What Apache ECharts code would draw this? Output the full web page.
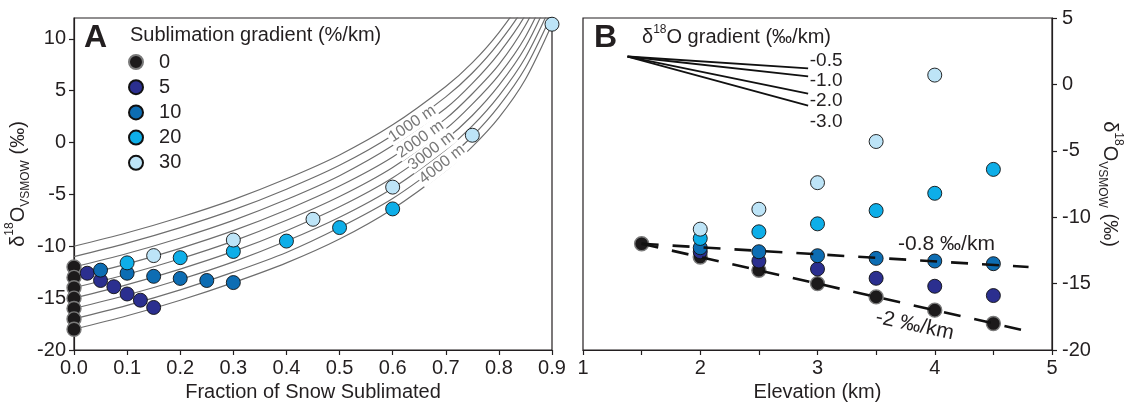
<!DOCTYPE html>
<html><head><meta charset="utf-8">
<script src="https://cdn.jsdelivr.net/npm/echarts@6/dist/echarts.min.js"></script>
<style>html,body{margin:0;padding:0;background:#fff}#c{width:1125px;height:409px}</style>
</head><body><div id="c"></div>
<script>
const FONT = '"Liberation Sans", Arial, Helvetica, sans-serif';
const INK = '#231f20';

// ---- data ----
const gradients = ['0', '5', '10', '20', '30'];
const gradientColors = ['#1c1a1b', '#2b2f8f', '#0d6db3', '#0eaee8', '#bde4f7'];

const elevations0 = [1.5, 2, 2.5, 3, 3.5, 4, 4.5];
const elevations = [2, 2.5, 3, 3.5, 4, 4.5];

const d18O_0 = [-12, -13, -14, -15, -16, -17, -18];
const d18O_5 = [-12.6, -13.3, -13.9, -14.6, -15.2, -15.9];
const d18O_10 = [-12.3, -12.6, -12.9, -13.1, -13.3, -13.5];
const d18O_20 = [-11.6, -11.1, -10.5, -9.5, -8.2, -6.4];
const d18O_30 = [-10.9, -9.4, -7.4, -4.3, 0.7, 11.4];

const frac_0 = [0, 0, 0, 0, 0, 0, 0];
const frac_5 = [0.025, 0.05, 0.075, 0.1, 0.125, 0.15];
const frac_10 = [0.05, 0.1, 0.15, 0.2, 0.25, 0.3];
const frac_20 = [0.1, 0.2, 0.3, 0.4, 0.5, 0.6];
const frac_30 = [0.15, 0.3, 0.45, 0.6, 0.75, 0.9];

// model curves
const curveX = [0, 0.1, 0.2, 0.3, 0.4, 0.5, 0.6, 0.7, 0.75, 0.8, 0.85, 0.9];
const curve_m10 = [-10, -8.7, -7.2, -5.5, -3.5, -1.2, 1.7, 5.4, 7.7, 10.6, 14.3, 19.6];
const curve_m11 = [-11, -9.7, -8.2, -6.5, -4.5, -2.2, 0.7, 4.4, 6.7, 9.6, 13.3, 18.6];
const curve_m12 = [-12, -10.7, -9.2, -7.5, -5.5, -3.2, -0.3, 3.3, 5.7, 8.6, 12.3, 17.6];
const curve_m13 = [-13, -11.7, -10.2, -8.5, -6.5, -4.2, -1.4, 2.3, 4.7, 7.5, 11.3, 16.5];
const curve_m14 = [-14, -12.7, -11.2, -9.5, -7.5, -5.2, -2.4, 1.3, 3.7, 6.5, 10.2, 15.5];
const curve_m15 = [-15, -13.7, -12.2, -10.5, -8.5, -6.2, -3.4, 0.3, 2.6, 5.5, 9.2, 14.5];
const curve_m16 = [-16, -14.7, -13.2, -11.5, -9.5, -7.2, -4.4, -0.7, 1.6, 4.5, 8.2, 13.4];
const curve_m17 = [-17, -15.7, -14.2, -12.5, -10.6, -8.2, -5.4, -1.7, 0.6, 3.5, 7.2, 12.4];
const curve_m18 = [-18, -16.7, -15.2, -13.5, -11.6, -9.3, -6.4, -2.7, -0.4, 2.4, 6.1, 11.4];

const curveLabelNames = ['1000 m', '2000 m', '3000 m', '4000 m'];
const curveLabelX = [0.637, 0.652, 0.673, 0.693];
const curveLabelY = [1.8, 0.3, -0.8, -2.1];

// panel B schematic slope key
const fanLabels = ['-0.5', '-1.0', '-2.0', '-3.0'];
const fanStart = [1.38, 2.1];
const fanEndX = 2.92;
const fanEndY = [1.2, 0.6, -0.7, -1.6];
const fanLabelX = 2.93;
const fanLabelY = [1.75, 0.25, -1.2, -2.8];

// panel B trend lines
const trendUpper = [[1.5, -12], [4.8, -13.75]];
const trendLower = [[1.5, -12], [4.75, -18.5]];
const trendUpperLabel = ['-0.8 ‰/km', 4.1, -12.0];
const trendLowerLabel = ['-2 ‰/km', 3.83, -18.15];

const yTicksA = [-20, -15, -10, -5, 0, 5, 10];

// ---- build ----
const fracSets = [frac_0, frac_5, frac_10, frac_20, frac_30];
const d18OSets = [d18O_0, d18O_5, d18O_10, d18O_20, d18O_30];
const elevSets = [elevations0, elevations, elevations, elevations, elevations];
const curves = [curve_m10, curve_m11, curve_m12, curve_m13, curve_m14, curve_m15, curve_m16, curve_m17, curve_m18];

function markerStyle(i) {
  return i === 0
    ? { color: gradientColors[i], borderColor: '#7a7a7a', borderWidth: 1.4, opacity: 1 }
    : { color: gradientColors[i], borderColor: '#111', borderWidth: 0.9, opacity: 1 };
}
const hiddenItem = { color: 'rgba(0,0,0,0)', opacity: 1 };

const series = [];
curves.forEach(c => {
  series.push({
    type: 'line', xAxisIndex: 0, yAxisIndex: 0, silent: true,
    data: curveX.map((x, i) => [x, c[i]]),
    symbol: 'none', smooth: 0.3, clip: true,
    lineStyle: { color: '#6e6e6e', width: 1.2 }, z: 1
  });
});
series.push({
  type: 'scatter', xAxisIndex: 0, yAxisIndex: 0, silent: true, z: 2,
  symbolSize: 1, itemStyle: hiddenItem,
  data: curveLabelNames.map((n, i) => ({ name: n, value: [curveLabelX[i], curveLabelY[i]],
    label: { rotate: [34, 35, 37, 38][i] } })),
  label: { show: true, position: 'inside', formatter: p => p.name, color: '#777',
    opacity: 1, fontSize: 16, fontFamily: FONT, backgroundColor: '#fff', padding: [0, 1] }
});
gradients.forEach((g, i) => {
  series.push({
    name: g, type: 'scatter', xAxisIndex: 0, yAxisIndex: 0, z: 3 + i,
    symbolSize: 14, itemStyle: markerStyle(i), clip: false,
    data: fracSets[i].map((f, j) => [f, d18OSets[i][j]])
  });
});
gradients.forEach((g, i) => {
  series.push({
    name: g, type: 'scatter', xAxisIndex: 1, yAxisIndex: 1, z: 3 + i,
    symbolSize: 14, itemStyle: markerStyle(i), clip: true,
    data: elevSets[i].map((e, j) => [e, d18OSets[i][j]])
  });
});
[trendUpper, trendLower].forEach(t => {
  series.push({
    type: 'line', xAxisIndex: 1, yAxisIndex: 1, silent: true, z: 10,
    data: t, symbol: 'none',
    lineStyle: { color: '#111', width: 2.6, type: [17, 14] }
  });
});
[trendUpperLabel, trendLowerLabel].forEach((t, i) => {
  series.push({
    type: 'scatter', xAxisIndex: 1, yAxisIndex: 1, silent: true, z: 11,
    symbolSize: 1, itemStyle: hiddenItem,
    data: [{ name: t[0], value: [t[1], t[2]] }],
    label: { show: true, position: 'inside', formatter: p => p.name, color: INK, opacity: 1,
      fontSize: 21, fontFamily: FONT, rotate: i === 0 ? 0 : -12 }
  });
});
fanEndY.forEach(y => {
  series.push({
    type: 'line', xAxisIndex: 1, yAxisIndex: 1, silent: true, z: 10,
    data: [fanStart, [fanEndX, y]], symbol: 'none',
    lineStyle: { color: '#111', width: 1.8 }
  });
});
series.push({
  type: 'scatter', xAxisIndex: 1, yAxisIndex: 1, silent: true, z: 11,
  symbolSize: 1, itemStyle: hiddenItem,
  data: fanLabels.map((n, i) => ({ name: n, value: [fanLabelX, fanLabelY[i]] })),
  label: { show: true, position: 'right', distance: 0, formatter: p => p.name, color: INK,
    opacity: 1, fontSize: 19, fontFamily: FONT }
});

const axisCommon = {
  axisLine: { show: true, onZero: false, lineStyle: { color: INK, width: 1.2 } },
  axisTick: { show: true, length: 5, lineStyle: { color: INK, width: 1.2 } },
  splitLine: { show: false },
  nameTextStyle: { fontSize: 20, fontFamily: FONT, color: INK },
};
const labelStyle = { fontSize: 20, fontFamily: FONT, color: INK };
const richName = {
  a: { fontSize: 20, fontFamily: FONT, color: INK, lineHeight: 28 },
  sup: { fontSize: 12, fontFamily: FONT, color: INK, verticalAlign: 'top', lineHeight: 12 },
  sub: { fontSize: 12, fontFamily: FONT, color: INK, verticalAlign: 'bottom', lineHeight: 12 }
};
const yName = '{a|δ}{sup|18}{a|O}{sub|VSMOW}{a| (‰)}';

const option = {
  animation: false,
  backgroundColor: '#fff',
  title: [
    { text: 'A', left: 84, top: 22, padding: 0, textStyle: { fontSize: 32, fontWeight: 'bold', fontFamily: FONT, color: INK } },
    { text: 'Sublimation gradient (%/km)', left: 130, top: 25, padding: 0, textStyle: { fontSize: 20, fontWeight: 'normal', fontFamily: FONT, color: INK } },
    { text: 'B', left: 594, top: 22, padding: 0, textStyle: { fontSize: 32, fontWeight: 'bold', fontFamily: FONT, color: INK } },
    { text: '{a|δ}{s|18}{a|O gradient (‰/km)}', left: 642, top: 24, padding: 0,
      textStyle: { fontWeight: 'normal', rich: {
        a: { fontSize: 20, fontWeight: 'normal', fontFamily: FONT, color: INK, lineHeight: 26 },
        s: { fontSize: 12, fontWeight: 'normal', fontFamily: FONT, color: INK, verticalAlign: 'top', lineHeight: 12 } } } }
  ],
  legend: {
    data: gradients, orient: 'vertical', left: 128, top: 52, padding: 0,
    itemWidth: 14, itemHeight: 14, itemGap: 5.2,
    formatter: n => '  ' + n,
    textStyle: { fontSize: 20, fontFamily: FONT, color: INK, lineHeight: 20 },
    selectedMode: false
  },
  grid: [
    { left: 74, right: 573, top: 18, bottom: 59, show: true, borderColor: INK, borderWidth: 1.2, backgroundColor: 'transparent' },
    { left: 583, right: 68, top: 18, bottom: 59, show: true, borderColor: INK, borderWidth: 1.2, backgroundColor: 'transparent' }
  ],
  xAxis: [
    Object.assign({}, axisCommon, {
      gridIndex: 0, type: 'value', min: 0, max: 0.9, interval: 0.1,
      axisLabel: Object.assign({ margin: 8, formatter: v => v.toFixed(1) }, labelStyle),
      name: 'Fraction of Snow Sublimated', nameLocation: 'middle', nameGap: 27
    }),
    Object.assign({}, axisCommon, {
      gridIndex: 1, type: 'value', min: 1, max: 5, interval: 0.5,
      axisLabel: Object.assign({ margin: 8, formatter: v => (Math.abs(v - Math.round(v)) < 1e-9 ? String(Math.round(v)) : '') }, labelStyle),
      name: 'Elevation (km)', nameLocation: 'middle', nameGap: 27
    })
  ],
  yAxis: [
    Object.assign({}, axisCommon, {
      gridIndex: 0, type: 'value', min: -20, max: 12, interval: 5,
      axisTick: { show: true, length: 5, lineStyle: { color: INK, width: 1.2 }, customValues: yTicksA },
      axisLabel: Object.assign({ margin: 8, customValues: yTicksA }, labelStyle),
      name: yName, nameLocation: 'middle', nameGap: 42, nameRotate: 90,
      nameTextStyle: { rich: richName }
    }),
    Object.assign({}, axisCommon, {
      gridIndex: 1, type: 'value', position: 'right', min: -20, max: 5, interval: 5,
      axisLabel: Object.assign({ margin: 10 }, labelStyle),
      name: yName, nameLocation: 'middle', nameGap: 44, nameRotate: -90,
      nameTextStyle: { rich: richName }
    })
  ],
  series: series
};

const chart = echarts.init(document.getElementById('c'), null, { renderer: 'canvas' });
chart.setOption(option);
</script>
</body></html>
